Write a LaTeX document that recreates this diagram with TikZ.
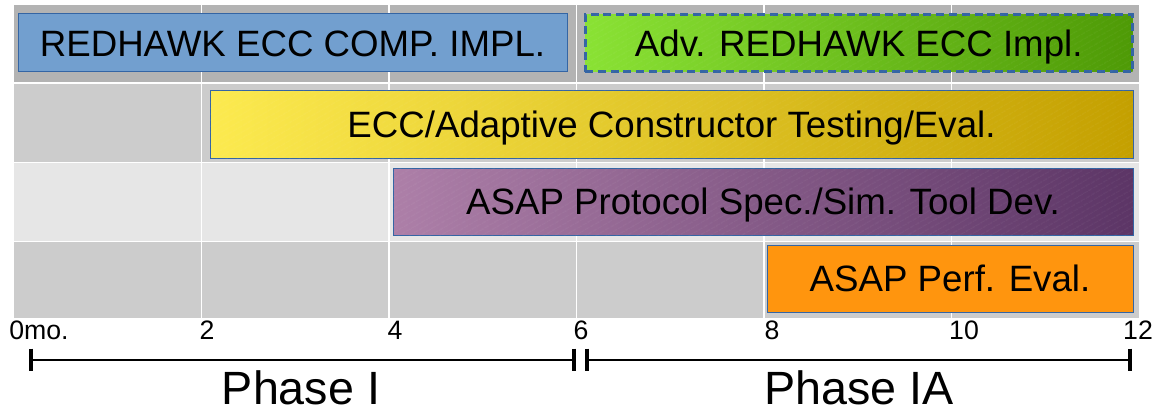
\documentclass[tikz,border=0pt]{standalone}
\usepackage{fontspec}
\setmainfont{Liberation Sans}
\usetikzlibrary{patterns.meta}

\definecolor{rowA}{HTML}{B3B3B3}
\definecolor{rowB}{HTML}{CCCCCC}
\definecolor{rowC}{HTML}{E6E6E6}
\definecolor{edge}{HTML}{3465A4}
\definecolor{skyblue}{HTML}{729FCF}
\definecolor{greenL}{HTML}{8AE234}
\definecolor{greenR}{HTML}{4E9A06}
\definecolor{yellowL}{HTML}{FCEA4F}
\definecolor{yellowR}{HTML}{C4A000}
\definecolor{plumL}{HTML}{AD7FA8}
\definecolor{plumR}{HTML}{5C3566}
\definecolor{orangeF}{HTML}{FF950E}

\begin{document}
\begin{tikzpicture}[x=0.75pt,y=-0.75pt,
  task/.style={draw=edge, solid, line width=0.75pt, inner sep=0pt,
    text height=19.7pt, text depth=0pt,
    font=\fontsize{27.5}{33}\selectfont},
  hatch/.style={postaction={solid, pattern={Lines[angle=30,distance=4pt,line width=0.35pt]},
    pattern color=white, fill opacity=0.12}},
  gridline/.style={white, line width=1.1pt},
  month/.style={anchor=base, inner sep=0pt, font=\fontsize{20}{24}\selectfont},
  phase/.style={anchor=base, inner sep=0pt, font=\fontsize{35}{40}\selectfont},
  span/.style={black, solid, line width=1.1pt},
  tick/.style={black, solid, line width=3pt}]
\useasboundingbox (0,0) rectangle (1159,410);
\fill[white] (0,0) rectangle (1159,410);

% row bands of the schedule
\fill[rowA] (14,5)     rectangle (1139,82.5);
\fill[rowB] (14,84)    rectangle (1139,161.5);
\fill[rowC] (14,163)   rectangle (1139,240.5);
\fill[rowB] (14,242)   rectangle (1139,318);
\foreach \x in {201.5,389,576.5,764,951.5}
  \draw[gridline] (\x,5) -- (\x,318);

% work packages
\node[task, fill=skyblue, minimum width=549*0.75pt, minimum height=58*0.75pt]
  (redhawk) at (292.5,43) {REDHAWK ECC COMP. IMPL.};
\node[task, left color=yellowL, right color=yellowR, hatch,
  minimum width=923*0.75pt, minimum height=67.3*0.75pt]
  (testing) at (671.5,124.6) {ECC/Adaptive Constructor Testing/Eval.};
\node[task, left color=plumL, right color=plumR, hatch,
  minimum width=740*0.75pt, minimum height=67*0.75pt]
  (protocol) at (763,201.8) {ASAP Protocol Spec./Sim. Tool Dev.};
\node[task, fill=orangeF, minimum width=366*0.75pt, minimum height=67*0.75pt]
  (perf) at (950,278.5) {ASAP Perf. Eval.};
\node[task, left color=greenL, right color=greenR, hatch,
  line width=2.25pt, dash pattern=on 6pt off 3.6pt,
  minimum width=547.5*0.75pt, minimum height=57.7*0.75pt]
  (adv) at (858.75,43.15) {Adv. REDHAWK ECC Impl.};

% month scale
\node[month, anchor=base west] (m0) at (9,339) {0mo.};
\node[month] (m2)  at (207,339)  {2};
\node[month] (m4)  at (395,339)  {4};
\node[month] (m6)  at (581,339)  {6};
\node[month] (m8)  at (772,339)  {8};
\node[month] (m10) at (964,339)  {10};
\node[month] (m12) at (1138,339) {12};

% phase spans
\coordinate (pstart) at (30.5,360);
\coordinate (pendI)  at (574,360);
\coordinate (pbegIA) at (586.5,360);
\coordinate (pend)   at (1130,360);
\draw[span] (pstart) -- (pendI);
\draw[span] (pbegIA) -- (pend);
\foreach \c in {pstart,pendI,pbegIA,pend}
  \draw[tick] ([yshift=8.6pt]\c) -- ([yshift=-8.6pt]\c);

\node[phase] (phaseI)  at (301,404.5) {Phase I};
\node[phase] (phaseIA) at (859,404.5) {Phase IA};
\end{tikzpicture}
\end{document}
